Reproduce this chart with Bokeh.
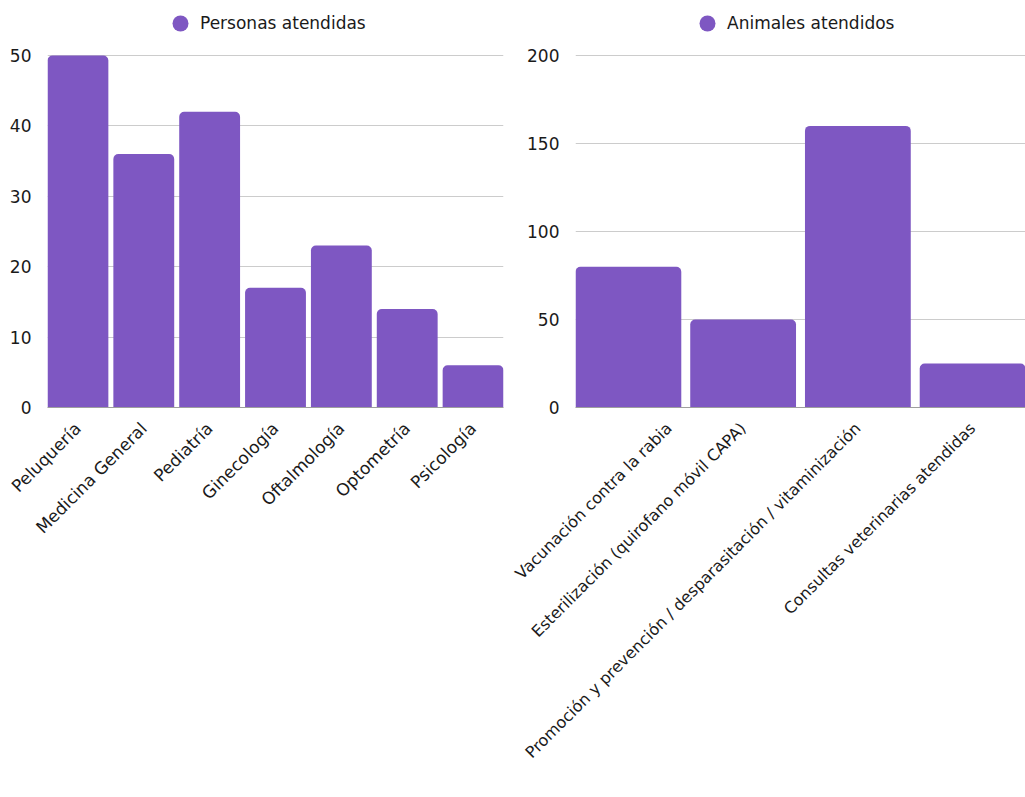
import math
from bokeh.plotting import figure
from bokeh.models import ColumnDataSource, FactorRange, Range1d, FixedTicker, Legend, LegendItem
from bokeh.layouts import row
from bokeh.embed import file_html
from bokeh.resources import INLINE

personas_cats = ["Peluquería", "Medicina General", "Pediatría", "Ginecología",
                 "Oftalmología", "Optometría", "Psicología"]
personas_vals = [50, 36, 42, 17, 23, 14, 6]
personas_ticks = [0, 10, 20, 30, 40, 50]

animales_cats = ["Vacunación contra la rabia",
                 "Esterilización (quirofano móvil CAPA)",
                 "Promoción y prevención / desparasitación / vitaminización",
                 "Consultas veterinarias atendidas"]
animales_vals = [80, 50, 160, 25]
animales_ticks = [0, 50, 100, 150, 200]

COLOR = "#7E57C2"
FONT = "DejaVu Sans"
TXT = "#1a1a1a"
TOP = 55      # page y of the top tick
BASE = 407    # page y of zero
H = 797
FH = BASE     # frame spans from page top to zero line


def make(cats, vals, ticks, ymax, label, w, bl, br, bw, legx, xfs):
    src = ColumnDataSource(dict(x=cats, y=vals))
    ytop = ymax * FH / (BASE - TOP)
    pad = (bw - 1) / len(cats)
    p = figure(x_range=FactorRange(*cats, range_padding=pad), y_range=Range1d(0, ytop),
               width=w, height=H, output_backend="svg",
               toolbar_location=None, min_border_left=bl, min_border_right=br,
               min_border_top=0, min_border_bottom=H - FH, outline_line_color=None)
    p.vbar(x="x", top="y", width=bw, source=src, fill_color=COLOR, line_color=None,
           border_radius=(5, 5, 0, 0))
    dummy = p.scatter(x=[cats[0]], y=[float("nan")], size=10, fill_color=COLOR,
                      line_color=None)
    leg = Legend(items=[LegendItem(label=label, renderers=[dummy])],
                 location=(legx, FH - 43), orientation="horizontal",
                 border_line_color=None, background_fill_alpha=0,
                 label_text_font=FONT, label_text_font_size="17px",
                 label_text_color=TXT, glyph_width=40, glyph_height=40,
                 label_standoff=0, padding=0, margin=0, spacing=0)
    p.add_layout(leg)
    p.yaxis.ticker = FixedTicker(ticks=ticks)
    p.yaxis.axis_line_color = None
    p.yaxis.major_tick_line_color = None
    p.yaxis.minor_tick_line_color = None
    p.yaxis.major_label_text_font = FONT
    p.yaxis.major_label_text_font_size = "17px"
    p.yaxis.major_label_text_color = TXT
    p.yaxis.major_label_standoff = 10
    p.xaxis.axis_line_color = "#9e9e9e"
    p.xaxis.major_tick_line_color = None
    p.xaxis.minor_tick_line_color = None
    p.xaxis.major_label_orientation = math.pi / 4
    p.xaxis.major_label_text_font = FONT
    p.xaxis.major_label_text_font_size = xfs
    p.xaxis.major_label_text_color = TXT
    p.xaxis.major_label_standoff = 12
    p.xgrid.grid_line_color = None
    p.ygrid.grid_line_color = "#cccccc"
    return p


p1 = make(personas_cats, personas_vals, personas_ticks, 50, "Personas atendidas",
          511, 47, 8, 0.924, 113, "17px")
p2 = make(animales_cats, animales_vals, animales_ticks, 200, "Animales atendidos",
          514, 64, 0, 0.922, 112, "16px")

layout = row(p1, p2)
open("out.html", "w").write(file_html(layout, INLINE))
